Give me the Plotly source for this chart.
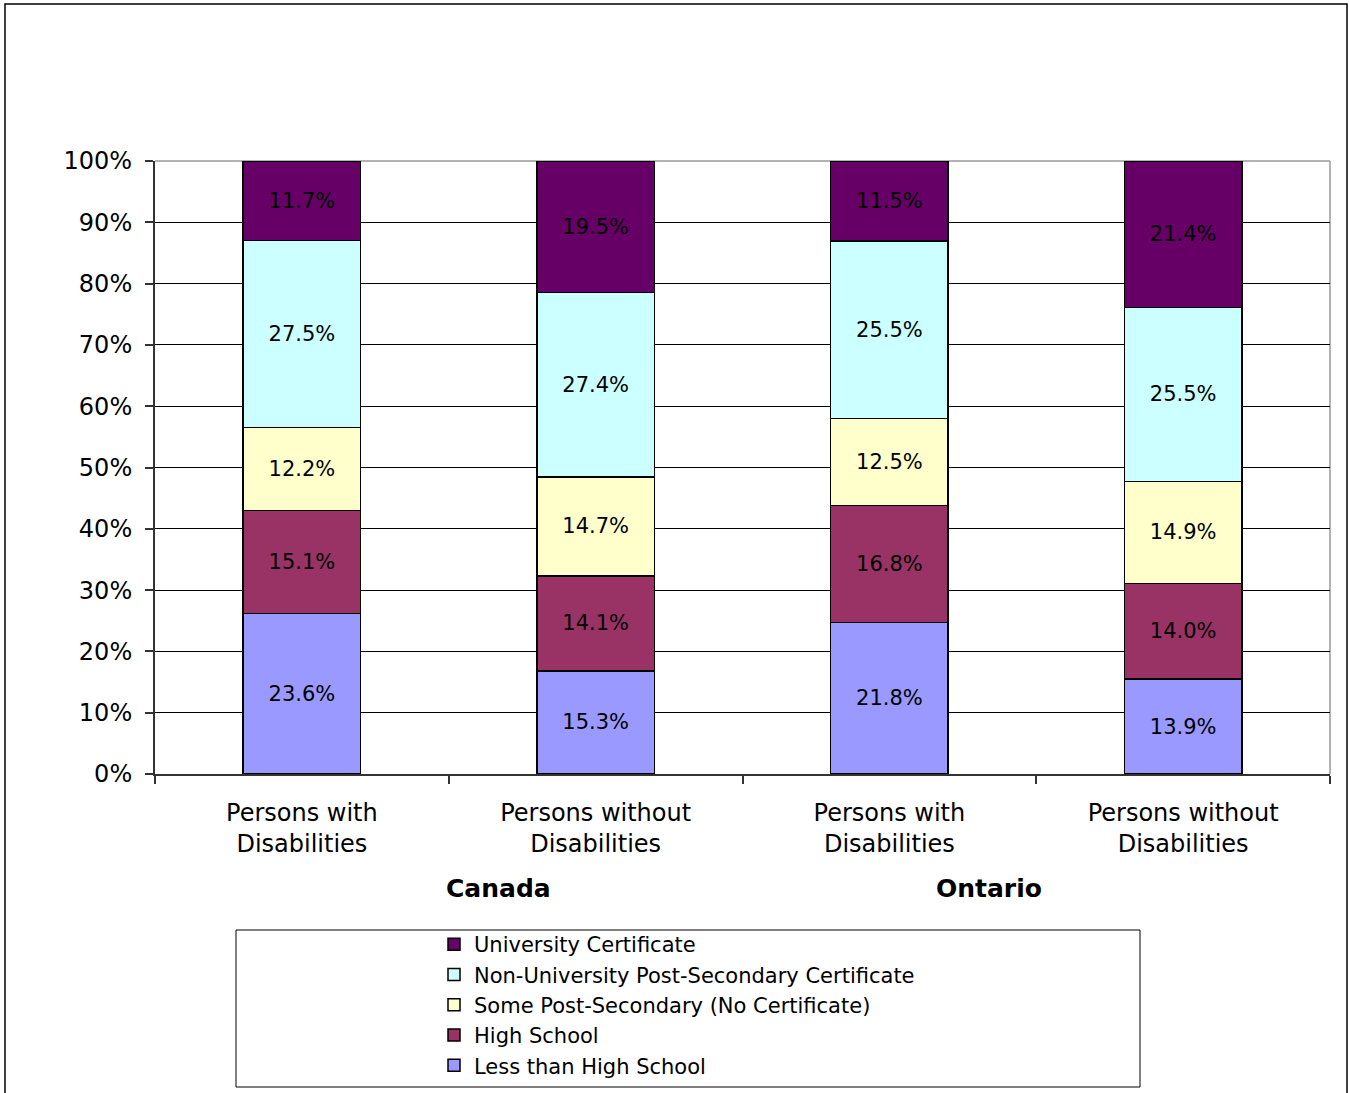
import plotly.graph_objects as go

# ---- data ----
categories = ["Persons with<br>Disabilities", "Persons without<br>Disabilities",
              "Persons with<br>Disabilities", "Persons without<br>Disabilities"]
groups = ["Canada", "Ontario"]
series_names = ["Less than High School", "High School", "Some Post-Secondary (No Certificate)",
                "Non-University Post-Secondary Certificate", "University Certificate"]
less_than_hs = [23.6, 15.3, 21.8, 13.9]
high_school = [15.1, 14.1, 16.8, 14.0]
some_post_sec = [12.2, 14.7, 12.5, 14.9]
non_univ_cert = [27.5, 27.4, 25.5, 25.5]
univ_cert = [11.7, 19.5, 11.5, 21.4]
series_values = [less_than_hs, high_school, some_post_sec, non_univ_cert, univ_cert]
colors = ["#9999FF", "#993366", "#FFFFCC", "#CCFFFF", "#660066"]
y_ticks = list(range(0, 101, 10))
y_tick_labels = [f"{v}%" for v in y_ticks]

FONT = "DejaVu Sans"
W, H = 1349, 1093
L, R, T, B = 155, 1330, 161, 774   # plot area in pixels

def px_x(p):
    return (p - L) / (R - L)

def px_y(p):
    return (B - p) / (B - T)

xpos = list(range(len(categories)))

fig = go.Figure()
for name, vals, col in zip(series_names, series_values, colors):
    fig.add_trace(go.Bar(
        x=xpos, y=vals, name=name,
        marker=dict(color=col, line=dict(color="#000000", width=1.5)),
        width=0.4,
        text=[f"{v:.1f}%" for v in vals],
        textposition="inside", insidetextanchor="middle", textangle=0,
        textfont=dict(family=FONT, size=21, color="#000000"),
        insidetextfont=dict(family=FONT, size=21, color="#000000"),
        constraintext="none",
    ))

fig.update_layout(
    barmode="stack", barnorm="percent",
    width=W, height=H,
    margin=dict(l=L, r=W - R, t=T, b=H - B, pad=0, autoexpand=False),
    paper_bgcolor="white", plot_bgcolor="white",
    font=dict(family=FONT, size=21, color="#000000"),
    showlegend=True,
    legend=dict(
        traceorder="reversed",
        x=px_x(434), xanchor="left",
        y=px_y(924), yanchor="top",
        bgcolor="rgba(0,0,0,0)", borderwidth=0,
        font=dict(family=FONT, size=21, color="#000000"),
        itemwidth=30,
    ),
    xaxis=dict(
        range=[-0.5, 3.5], tickmode="array", tickvals=xpos, ticktext=categories,
        ticks="", ticklabelstandoff=16,
        tickfont=dict(family=FONT, size=24, color="#000000"),
        showline=True, linecolor="#333333", linewidth=1.5,
        showgrid=False, zeroline=False,
        minor=dict(tickmode="array", tickvals=[-0.5, 0.5, 1.5, 2.5, 3.5],
                   ticks="outside", ticklen=8, tickcolor="#333333", tickwidth=1.5,
                   showgrid=False),
    ),
    yaxis=dict(
        range=[0, 100], tickmode="array", tickvals=y_ticks, ticktext=y_tick_labels,
        ticks="outside", ticklen=8, tickcolor="#333333", tickwidth=1.5,
        tickfont=dict(family=FONT, size=24, color="#000000"),
        ticklabelstandoff=8,
        showline=True, linecolor="#333333", linewidth=2,
        showgrid=True, gridcolor="#000000", gridwidth=1,
        zeroline=False,
    ),
)

# group labels
for g, xg in zip(groups, [0.67, 2.34]):
    fig.add_annotation(x=xg, xref="x", y=px_y(888), yref="paper", text=f"<b>{g}</b>",
                       showarrow=False, font=dict(family=FONT, size=25, color="#000000"),
                       xanchor="center", yanchor="middle")

# gray top/right plot border
fig.add_shape(type="line", xref="paper", yref="paper", x0=0, x1=1, y0=1, y1=1,
              line=dict(color="#999999", width=1.5), layer="between")
fig.add_shape(type="line", xref="paper", yref="paper", x0=1, x1=1, y0=0, y1=1,
              line=dict(color="#999999", width=1.5), layer="between")

# legend box
fig.add_shape(type="rect", xref="paper", yref="paper",
              x0=px_x(236), x1=px_x(1140), y0=px_y(1087), y1=px_y(930),
              line=dict(color="#000000", width=1), fillcolor="rgba(0,0,0,0)")

# outer chart border
fig.add_shape(type="rect", xref="paper", yref="paper",
              x0=px_x(5), x1=px_x(1347), y0=px_y(1100), y1=px_y(4),
              line=dict(color="#000000", width=1.5), fillcolor="rgba(0,0,0,0)")

fig.write_html("out.html")
